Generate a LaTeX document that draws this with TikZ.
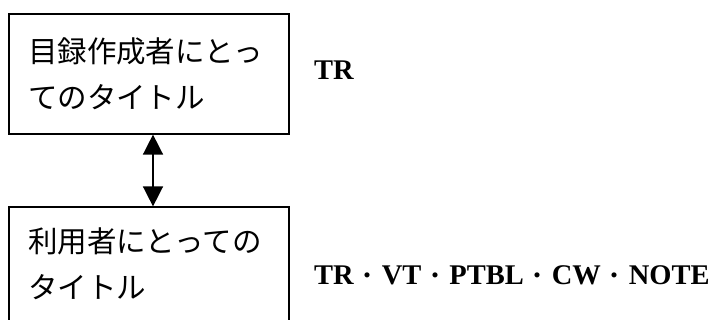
\documentclass[tikz,border=0pt]{standalone}
\usepackage{fontspec}
\setmainfont{Liberation Serif}
\newfontfamily\jpfont{Noto Sans CJK JP}
\usetikzlibrary{arrows.meta, positioning}
\tikzset{
  % riquadro del titolo
  titlebox/.style={draw=black, line width=1.2pt, minimum width=280pt,
    text width=242pt, inner xsep=19pt, inner ysep=0pt, align=left,
    font=\jpfont\fontsize{29.5}{46}\selectfont},
  % sigle degli elementi
  codelbl/.style={inner sep=0pt, anchor=base west,
    font=\bfseries\fontsize{28.5}{34}\selectfont},
  % freccia doppia
  dblarrow/.style={{Triangle[width=20pt,length=20pt]}-{Triangle[width=20pt,length=20pt]},
    line width=1.5pt},
}
\newcommand{\jdot}{{\jpfont\mdseries\fontsize{24}{30}\selectfont\hspace{2pt}・\hspace{2pt}}}
\begin{document}
\begin{tikzpicture}[x=1pt, y=-1pt]
  \useasboundingbox (0,0) rectangle (713,320);
  \node[titlebox, minimum height=120pt] (cat) at (149,74) {目録作成者にとっ\\てのタイトル};
  \node[titlebox, minimum height=114pt] (user) at (149,264) {利用者にとっての\\タイトル};
  \draw[dblarrow] ([xshift=4pt]cat.south) -- ([xshift=4pt]user.north);
  \node[codelbl] (catcode) at (314,80) {TR};
  \node[codelbl] (usercode) at (314,285) {TR\jdot VT\jdot PTBL\jdot CW\jdot NOTE};
\end{tikzpicture}
\end{document}
